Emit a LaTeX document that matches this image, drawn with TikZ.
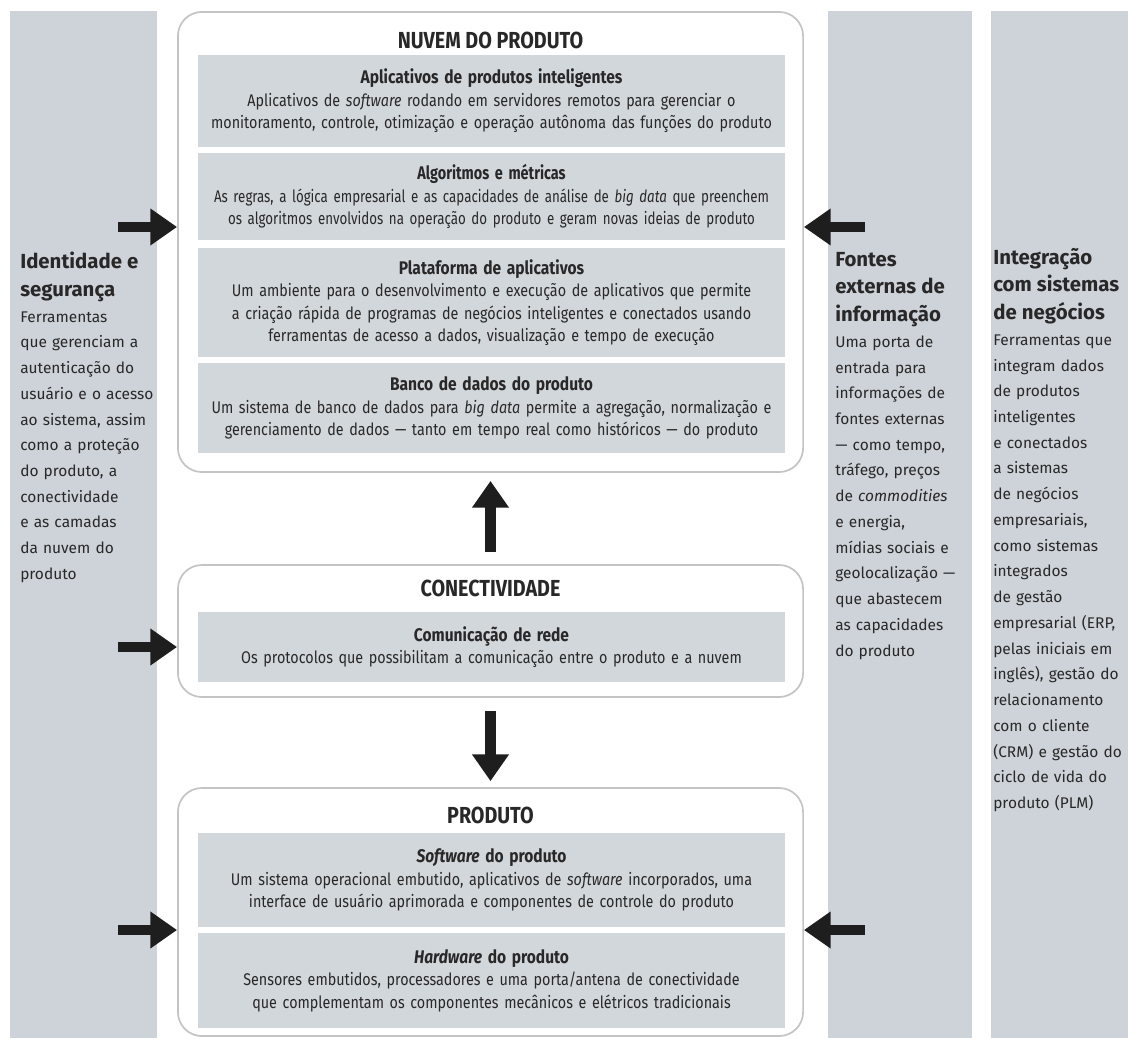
\documentclass[tikz,border=0pt]{standalone}
\usepackage{fontspec}
\setmainfont{Fira Sans}
\newfontfamily\narrowfont[FakeStretch=0.85]{Fira Sans}
\newfontfamily\tightfont[FakeStretch=0.79]{Fira Sans}
\usetikzlibrary{arrows.meta}

\definecolor{sidegray}{RGB}{206,211,217}
\definecolor{panelgray}{RGB}{210,215,220}
\definecolor{frameline}{RGB}{196,196,196}
\definecolor{inkdark}{RGB}{40,40,40}
\definecolor{arrowdark}{RGB}{30,30,30}

\tikzset{
  layer/.style={draw=frameline, line width=1.2pt, rounded corners=0.6cm, fill=white, minimum width=15.625cm, inner sep=0pt},
  layertitle/.style={font=\narrowfont\bfseries\fontsize{16.5}{18}\selectfont, text=inkdark, inner sep=0pt},
  panel/.style={fill=panelgray, minimum width=14.675cm, text width=14.6cm, align=center, inner sep=0pt, text=inkdark, font=\narrowfont\fontsize{12}{16}\selectfont},
  tightpanel/.style={panel, font=\tightfont\fontsize{12}{16}\selectfont},
  sidetext/.style={anchor=north west, inner sep=0pt, text width=3.6cm, align=left, text=inkdark, font=\fontsize{11}{18.3}\selectfont},
  bigarrow/.style={line width=7.8pt, draw=arrowdark, -{Triangle[length=19pt, width=25pt]}}
}
\newcommand{\ptitle}[1]{{\bfseries\fontsize{13}{16}\selectfont #1}}
\newcommand{\stitle}{\bfseries\fontsize{14.5}{19.6}\selectfont}

\begin{document}
\begin{tikzpicture}[x=0.025cm, y=-0.025cm]
        \useasboundingbox (0,0) rectangle (1128,1038);
        \fill[white] (0,0) rectangle (1128,1038);
        \fill[sidegray] (10,11) rectangle (157,1038);
        \fill[sidegray] (828,11) rectangle (972,1038);
        \fill[sidegray] (991,11) rectangle (1128,1038);

        \node[sidetext] (ident) at (20,252) {{\stitle Identidade e\\segurança\par}Ferramentas\\que gerenciam a\\autenticação do\\usuário e o acesso\\ao sistema, assim\\como a proteção\\do produto, a\\conectividade\\e as camadas\\da nuvem do\\produto};
        \node[sidetext] (fontes) at (835,252) {{\stitle Fontes\\externas de\\informação\par}Uma porta de\\entrada para\\informações de\\fontes externas\\— como tempo,\\tráfego, preços\\de \textit{commodities}\\e energia,\\mídias sociais e\\geolocalização —\\que abastecem\\as capacidades\\do produto};
        \node[sidetext] (integ) at (993,248) {{\stitle Integração\\com sistemas\\de negócios\par}Ferramentas que\\integram dados\\de produtos\\inteligentes\\e conectados\\a sistemas\\de negócios\\empresariais,\\como sistemas\\integrados\\de gestão\\empresarial (ERP,\\pelas iniciais em\\inglês), gestão do\\relacionamento\\com o cliente\\(CRM) e gestão do\\ciclo de vida do\\produto (PLM)};

        \node[layer, minimum height=11.5cm] (nuvem) at (490.5,242) {};
        \node[layer, minimum height=3.3cm] (cone) at (490.5,631) {};
        \node[layer, minimum height=6.2cm] (prod) at (490.5,912) {};

        \node[layertitle] (tnuvem) at (490.5,40) {NUVEM DO PRODUTO};
        \node[layertitle] (tcone) at (490.5,588) {CONECTIVIDADE};
        \node[layertitle] (tprod) at (490.5,815) {PRODUTO};

        \node[panel, minimum height=2.3cm] (apps) at (491.5,101) {\ptitle{Aplicativos de produtos inteligentes}\\Aplicativos de \textit{software} rodando em servidores remotos para gerenciar o\\monitoramento, controle, otimização e operação autônoma das funções do produto};
        \node[tightpanel, minimum height=2.175cm] (algo) at (491.5,196.5) {\ptitle{Algoritmos e métricas}\\As regras, a lógica empresarial e as capacidades de análise de \textit{big data} que preenchem\\os algoritmos envolvidos na operação do produto e geram novas ideias de produto};
        \node[panel, minimum height=2.725cm] (plat) at (491.5,302.5) {\ptitle{Plataforma de aplicativos}\\Um ambiente para o desenvolvimento e execução de aplicativos que permite\\a criação rápida de programas de negócios inteligentes e conectados usando\\ferramentas de acesso a dados, visualização e tempo de execução};
        \node[panel, minimum height=2.25cm] (banco) at (491.5,408) {\ptitle{Banco de dados do produto}\\Um sistema de banco de dados para \textit{big data} permite a agregação, normalização e\\gerenciamento de dados — tanto em tempo real como históricos — do produto};
        \node[panel, minimum height=1.75cm] (rede) at (491.5,647) {\ptitle{Comunicação de rede}\\Os protocolos que possibilitam a comunicação entre o produto e a nuvem};
        \node[panel, minimum height=2.35cm] (soft) at (491.5,880) {\ptitle{\textit{Software} do produto}\\Um sistema operacional embutido, aplicativos de \textit{software} incorporados, uma\\interface de usuário aprimorada e componentes de controle do produto};
        \node[panel, minimum height=2.375cm] (hard) at (491.5,980.5) {\ptitle{\textit{Hardware} do produto}\\Sensores embutidos, processadores e uma porta/antena de conectividade\\que complementam os componentes mecânicos e elétricos tradicionais};

        \coordinate (ia) at (118,227);
        \coordinate (ib) at (118,647);
        \coordinate (ic) at (118,930);
        \coordinate (fa) at (865,227);
        \coordinate (fc) at (865,930);
        \draw[bigarrow] (ia) -- (ia -| nuvem.west);
        \draw[bigarrow] (ib) -- (ib -| cone.west);
        \draw[bigarrow] (ic) -- (ic -| prod.west);
        \draw[bigarrow] (fa) -- (fa -| nuvem.east);
        \draw[bigarrow] (fc) -- (fc -| prod.east);
        \draw[bigarrow] ([yshift=0.3cm]cone.north) -- ([yshift=-0.2cm]nuvem.south);
        \draw[bigarrow] ([yshift=-0.325cm]cone.south) -- ([yshift=0.15cm]prod.north);
\end{tikzpicture}
\end{document}
